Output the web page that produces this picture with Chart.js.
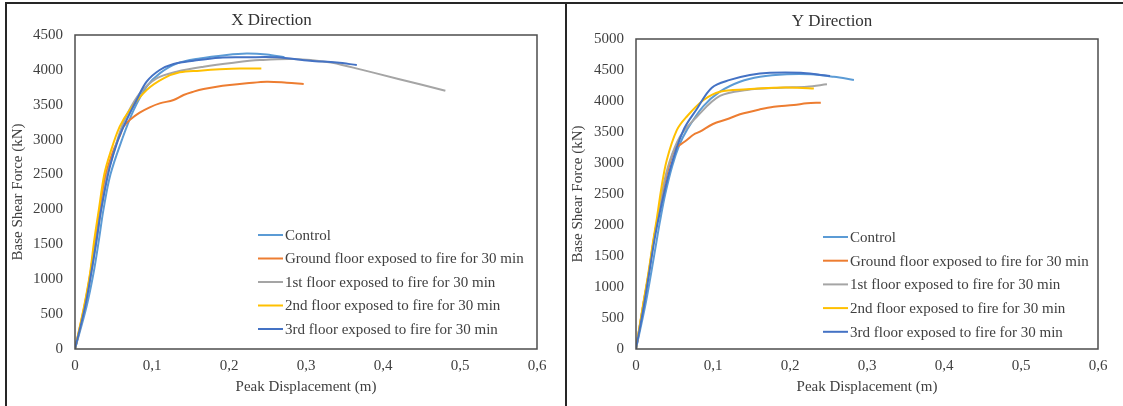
<!DOCTYPE html>
<html>
<head>
<meta charset="utf-8">
<script src="https://cdn.jsdelivr.net/npm/chart.js@4.4.1/dist/chart.umd.min.js"></script>
<style>
  html, body { margin: 0; padding: 0; background: #fff; }
  body { width: 1123px; height: 406px; position: relative; overflow: hidden; }
  .panel { position: absolute; top: 0; height: 406px; }
  #left { left: 6px; width: 560px; }
  #right { left: 566px; width: 557px; }
  .rule { position: absolute; background: #262626; }
</style>
</head>
<body>
<div class="panel" id="left"><canvas id="chartX"></canvas></div>
<div class="panel" id="right"><canvas id="chartY"></canvas></div>
<div class="rule" style="left:5px;top:2px;width:1118px;height:2px"></div>
<div class="rule" style="left:5px;top:2px;width:2px;height:404px"></div>
<div class="rule" style="left:565px;top:2px;width:2px;height:404px"></div>
<script>
const seriesLabels = [
    "Control",
    "Ground floor exposed to fire for 30 min",
    "1st floor exposed to fire for 30 min",
    "2nd floor exposed to fire for 30 min",
    "3rd floor exposed to fire for 30 min"
];
const seriesColors = ["#5B9BD5", "#ED7D31", "#A5A5A5", "#FFC000", "#4472C4"];

const dispTicks = [0, 0.1, 0.2, 0.3, 0.4, 0.5, 0.6];
const forceTicksX = [0, 500, 1000, 1500, 2000, 2500, 3000, 3500, 4000, 4500];
const forceTicksY = [0, 500, 1000, 1500, 2000, 2500, 3000, 3500, 4000, 4500, 5000];

// X direction - displacement (m) / base shear (kN)
const xControlDisp = [0, 0.015, 0.024, 0.031, 0.037, 0.046, 0.061, 0.076, 0.093, 0.11, 0.132, 0.162, 0.197, 0.223, 0.249, 0.272];
const xControlForce = [0, 610, 1085, 1560, 2000, 2500, 3000, 3420, 3760, 3950, 4090, 4165, 4215, 4235, 4220, 4180];
const xGroundDisp = [0, 0.012, 0.02, 0.026, 0.032, 0.04, 0.05, 0.058, 0.063, 0.071, 0.084, 0.097, 0.11, 0.128, 0.141, 0.154, 0.167, 0.184, 0.201, 0.223, 0.249, 0.275, 0.297];
const xGroundForce = [0, 600, 1085, 1560, 2000, 2500, 2850, 3050, 3186, 3282, 3387, 3463, 3520, 3568, 3640, 3688, 3726, 3759, 3783, 3807, 3831, 3817, 3798];
const xFirstDisp = [0, 0.013, 0.021, 0.028, 0.034, 0.042, 0.05, 0.058, 0.067, 0.084, 0.106, 0.132, 0.167, 0.206, 0.24, 0.284, 0.33, 0.36, 0.42, 0.481];
const xFirstForce = [0, 600, 1085, 1560, 2000, 2500, 2800, 3100, 3350, 3664, 3879, 3974, 4046, 4103, 4140, 4156, 4110, 4036, 3870, 3702];
const xSecondDisp = [0, 0.0117, 0.0195, 0.025, 0.031, 0.038, 0.0455, 0.058, 0.071, 0.093, 0.115, 0.136, 0.162, 0.188, 0.214, 0.242];
const xSecondForce = [0, 606, 1085, 1560, 2000, 2500, 2800, 3186, 3425, 3712, 3879, 3965, 3989, 4008, 4020, 4020];
const xThirdDisp = [0, 0.013, 0.021, 0.028, 0.034, 0.045, 0.056, 0.067, 0.08, 0.093, 0.11, 0.128, 0.154, 0.188, 0.223, 0.262, 0.305, 0.34, 0.366];
const xThirdForce = [0, 600, 1085, 1560, 2000, 2600, 3000, 3282, 3568, 3831, 3998, 4084, 4132, 4175, 4180, 4180, 4132, 4105, 4070];

// Y direction
const yControlDisp = [0, 0.012, 0.02, 0.027, 0.031, 0.038, 0.047, 0.056, 0.066, 0.087, 0.109, 0.135, 0.161, 0.196, 0.227, 0.257, 0.283];
const yControlForce = [0, 700, 1250, 1760, 2050, 2500, 2950, 3280, 3530, 3910, 4150, 4310, 4390, 4430, 4430, 4390, 4340];
const yGroundDisp = [0, 0.009, 0.0165, 0.023, 0.028, 0.036, 0.044, 0.051, 0.058, 0.066, 0.075, 0.083, 0.1, 0.118, 0.135, 0.161, 0.179, 0.205, 0.222, 0.24];
const yGroundForce = [0, 680, 1220, 1760, 2100, 2600, 3000, 3237, 3300, 3371, 3460, 3505, 3629, 3705, 3785, 3866, 3908, 3935, 3962, 3973];
const yFirstDisp = [0, 0.009, 0.0165, 0.023, 0.028, 0.035, 0.043, 0.057, 0.079, 0.109, 0.144, 0.1875, 0.222, 0.248];
const yFirstForce = [0, 680, 1220, 1760, 2100, 2600, 3000, 3425, 3747, 4081, 4177, 4215, 4231, 4269];
const ySecondDisp = [0, 0.0087, 0.016, 0.0225, 0.027, 0.033, 0.04, 0.053, 0.066, 0.0877, 0.109, 0.144, 0.179, 0.21, 0.231];
const ySecondForce = [0, 680, 1220, 1760, 2100, 2600, 3050, 3530, 3750, 4016, 4150, 4190, 4215, 4215, 4200];
const yThirdDisp = [0, 0.01, 0.017, 0.024, 0.03, 0.044, 0.0616, 0.079, 0.0985, 0.122, 0.148, 0.174, 0.214, 0.24, 0.252];
const yThirdForce = [0, 680, 1220, 1760, 2150, 2890, 3530, 3870, 4215, 4340, 4420, 4455, 4455, 4420, 4405];

const fontFamily = "'Liberation Serif', 'Times New Roman', serif";
const textColor = "#404040";

function makeDatasets(pairs) {
    return pairs.map((p, i) => ({
        label: seriesLabels[i],
        data: p[0].map((d, k) => ({ x: d, y: p[1][k] })),
        borderColor: seriesColors[i],
        backgroundColor: seriesColors[i],
        borderWidth: 2,
        pointRadius: 0,
        showLine: true,
        fill: false,
        tension: 0.35,
        order: 4 - i
    }));
}

// legend drawn inside plot area
const insideLegend = {
    id: "insideLegend",
    afterDatasetsDraw(chart, args, opts) {
        const { ctx, chartArea } = chart;
        ctx.save();
        ctx.font = "15px " + fontFamily;
        ctx.textBaseline = "middle";
        ctx.fillStyle = textColor;
        chart.data.datasets.forEach((ds, i) => {
            const x = chartArea.left + opts.left;
            const y = chartArea.top + opts.top + i * opts.gap;
            ctx.strokeStyle = ds.borderColor;
            ctx.lineWidth = 2;
            ctx.beginPath();
            ctx.moveTo(x, y);
            ctx.lineTo(x + 25, y);
            ctx.stroke();
            ctx.fillText(ds.label, x + 27, y + 1);
        });
        ctx.restore();
    }
};

// plot frame
const plotFrame = {
    id: "plotFrame",
    afterDraw(chart) {
        const { ctx, chartArea } = chart;
        ctx.save();
        ctx.strokeStyle = "#4d4d4d";
        ctx.lineWidth = 1.5;
        ctx.strokeRect(chartArea.left, chartArea.top, chartArea.right - chartArea.left, chartArea.bottom - chartArea.top);
        ctx.restore();
    }
};

function makeChart(id, title, pairs, forceTicks, cfg) {
    const ctx = document.getElementById(id).getContext("2d");
    return new Chart(ctx, {
        type: "scatter",
        data: { datasets: makeDatasets(pairs) },
        plugins: [insideLegend, plotFrame],
        options: {
            responsive: true,
            maintainAspectRatio: false,
            animation: false,
            layout: { padding: { left: 0, top: 0, right: cfg.padRight, bottom: 0 } },
            plugins: {
                legend: { display: false },
                tooltip: { enabled: false },
                title: {
                    display: true,
                    text: title,
                    color: "#333",
                    font: { family: fontFamily, size: 17, weight: "normal" },
                    padding: { top: cfg.titleTop, bottom: cfg.titleBottom }
                },
                insideLegend: cfg.legend
            },
            scales: {
                x: {
                    type: "linear",
                    min: 0,
                    max: 0.6,
                    afterBuildTicks: (s) => { s.ticks = dispTicks.map((v) => ({ value: v })); },
                    afterFit: (s) => { s.height = 57; },
                    grid: { display: false, drawTicks: false },
                    border: { display: false },
                    ticks: {
                        color: textColor,
                        padding: 8,
                        maxRotation: 0,
                        font: { family: fontFamily, size: 15 },
                        callback: (v) => (v === 0 ? "0" : v.toFixed(1).replace(".", ","))
                    },
                    title: {
                        display: true,
                        text: "Peak Displacement (m)",
                        color: textColor,
                        font: { family: fontFamily, size: 15 },
                        padding: { top: 0, bottom: 10 }
                    }
                },
                y: {
                    type: "linear",
                    min: 0,
                    max: forceTicks[forceTicks.length - 1],
                    afterBuildTicks: (s) => { s.ticks = forceTicks.map((v) => ({ value: v })); },
                    afterFit: (s) => { s.width = cfg.yWidth; },
                    grid: { display: false, drawTicks: false },
                    border: { display: false },
                    ticks: {
                        color: textColor,
                        padding: 12,
                        font: { family: fontFamily, size: 15 },
                        callback: (v) => String(v)
                    },
                    title: {
                        display: true,
                        text: "Base Shear Force (kN)",
                        color: textColor,
                        font: { family: fontFamily, size: 15 },
                        padding: { top: 3, bottom: 0 }
                    }
                }
            }
        }
    });
}

makeChart("chartX", "X Direction", [
    [xControlDisp, xControlForce],
    [xGroundDisp, xGroundForce],
    [xFirstDisp, xFirstForce],
    [xSecondDisp, xSecondForce],
    [xThirdDisp, xThirdForce]
], forceTicksX, { padRight: 29, yWidth: 69, titleTop: 10, titleBottom: 4.6, legend: { left: 183, top: 200, gap: 23.5 } });

makeChart("chartY", "Y Direction", [
    [yControlDisp, yControlForce],
    [yGroundDisp, yGroundForce],
    [yFirstDisp, yFirstForce],
    [ySecondDisp, ySecondForce],
    [yThirdDisp, yThirdForce]
], forceTicksY, { padRight: 25, yWidth: 70, titleTop: 11, titleBottom: 7.6, legend: { left: 187, top: 198, gap: 23.7 } });
</script>
</body>
</html>
